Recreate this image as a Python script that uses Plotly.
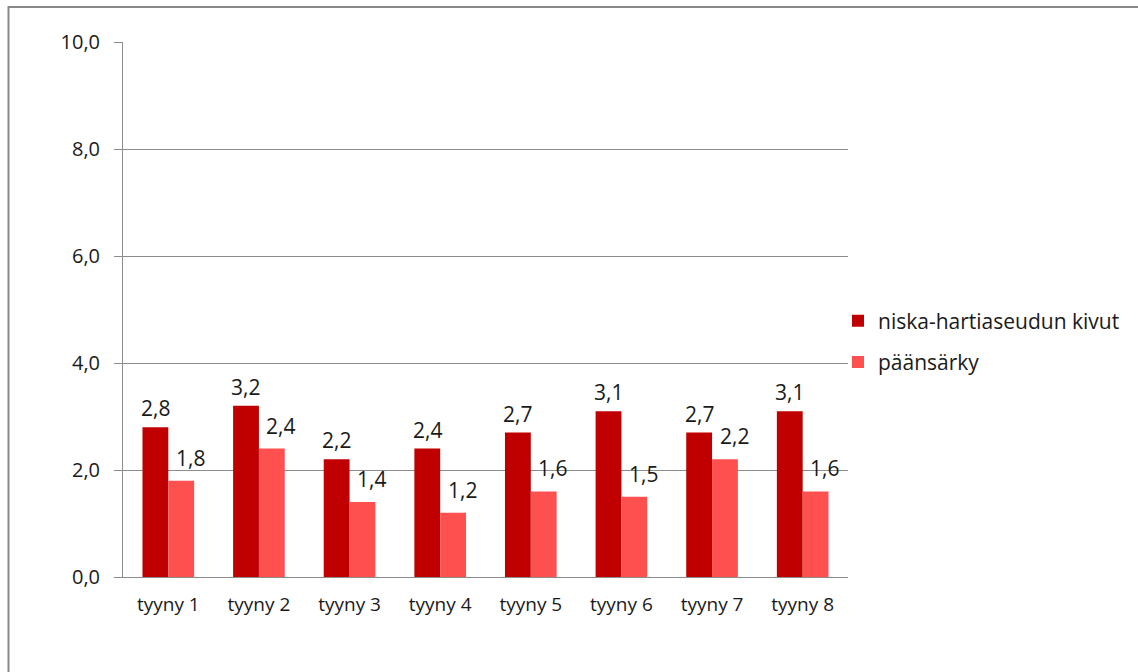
import plotly.graph_objects as go

categories = ["tyyny 1", "tyyny 2", "tyyny 3", "tyyny 4", "tyyny 5", "tyyny 6", "tyyny 7", "tyyny 8"]
niska = [2.8, 3.2, 2.2, 2.4, 2.7, 3.1, 2.7, 3.1]
paansarky = [1.8, 2.4, 1.4, 1.2, 1.6, 1.5, 2.2, 1.6]
series_names = ["niska-hartiaseudun kivut", "päänsärky"]
y_ticks = [0, 2, 4, 6, 8, 10]
y_ticktext = ["0,0", "2,0", "4,0", "6,0", "8,0", "10,0"]

DARK = "#C00000"
LIGHT = "#FF5050"
FONT = "'Open Sans', sans-serif"
TXT = "#1A1A1A"
FS = 20

W, H = 1138, 672
L, R, T, B = 123, 290, 42, 95
pw, ph = W - L - R, H - T - B


def fmt(v):
    return f"{v:.1f}".replace(".", ",")


fig = go.Figure()
fig.add_trace(go.Bar(x=categories, y=niska, name=series_names[0], legendgroup="a",
                     marker=dict(color=DARK, line=dict(width=0))))
fig.add_trace(go.Bar(x=categories, y=paansarky, name=series_names[1], legendgroup="b",
                     marker=dict(color=LIGHT, line=dict(width=0))))

# value labels above each bar
for i, (a, b) in enumerate(zip(niska, paansarky)):
    fig.add_annotation(x=i, y=a, text=fmt(a), showarrow=False, xshift=-13,
                       yshift=19, font=dict(size=21, color=TXT, family=FONT))
    fig.add_annotation(x=i, y=b, text=fmt(b), showarrow=False, xshift=22,
                       yshift=23, font=dict(size=21, color=TXT, family=FONT))

# outer chart frame
fx0 = (8.5 - L) / pw
fy1 = (H - B - 7) / ph
fig.add_shape(type="rect", xref="paper", yref="paper", x0=fx0, x1=1.6,
              y0=-0.5, y1=fy1, line=dict(color="#888888", width=2),
              fillcolor="rgba(0,0,0,0)", layer="below")

fig.update_layout(
    width=W, height=H,
    margin=dict(l=L, r=R, t=T, b=B, pad=0),
    paper_bgcolor="white", plot_bgcolor="white",
    barmode="group", bargap=0.43, bargroupgap=0,
    font=dict(family=FONT, size=FS, color=TXT),
    legend=dict(x=(838 - L) / pw, y=0.44, xanchor="left", yanchor="middle",
                font=dict(size=21, color=TXT, family=FONT),
                tracegroupgap=11, itemwidth=30, bgcolor="rgba(0,0,0,0)"),
    showlegend=True,
)
fig.update_yaxes(range=[0, 10], tickvals=y_ticks, ticktext=y_ticktext,
                 showgrid=True, gridcolor="#8C8C8C", gridwidth=1,
                 showline=True, linecolor="#8C8C8C", linewidth=1,
                 ticks="outside", ticklen=8, tickcolor="#8C8C8C",
                 ticklabelstandoff=10,
                 tickfont=dict(size=FS, family=FONT), zeroline=False,
                 fixedrange=True)
fig.update_xaxes(showline=True, linecolor="#8C8C8C", linewidth=1,
                 ticks="", tickfont=dict(size=19, family=FONT),
                 ticklabelstandoff=10,
                 range=[-0.5, 7.5], fixedrange=True)

fig.write_html("out.html")
